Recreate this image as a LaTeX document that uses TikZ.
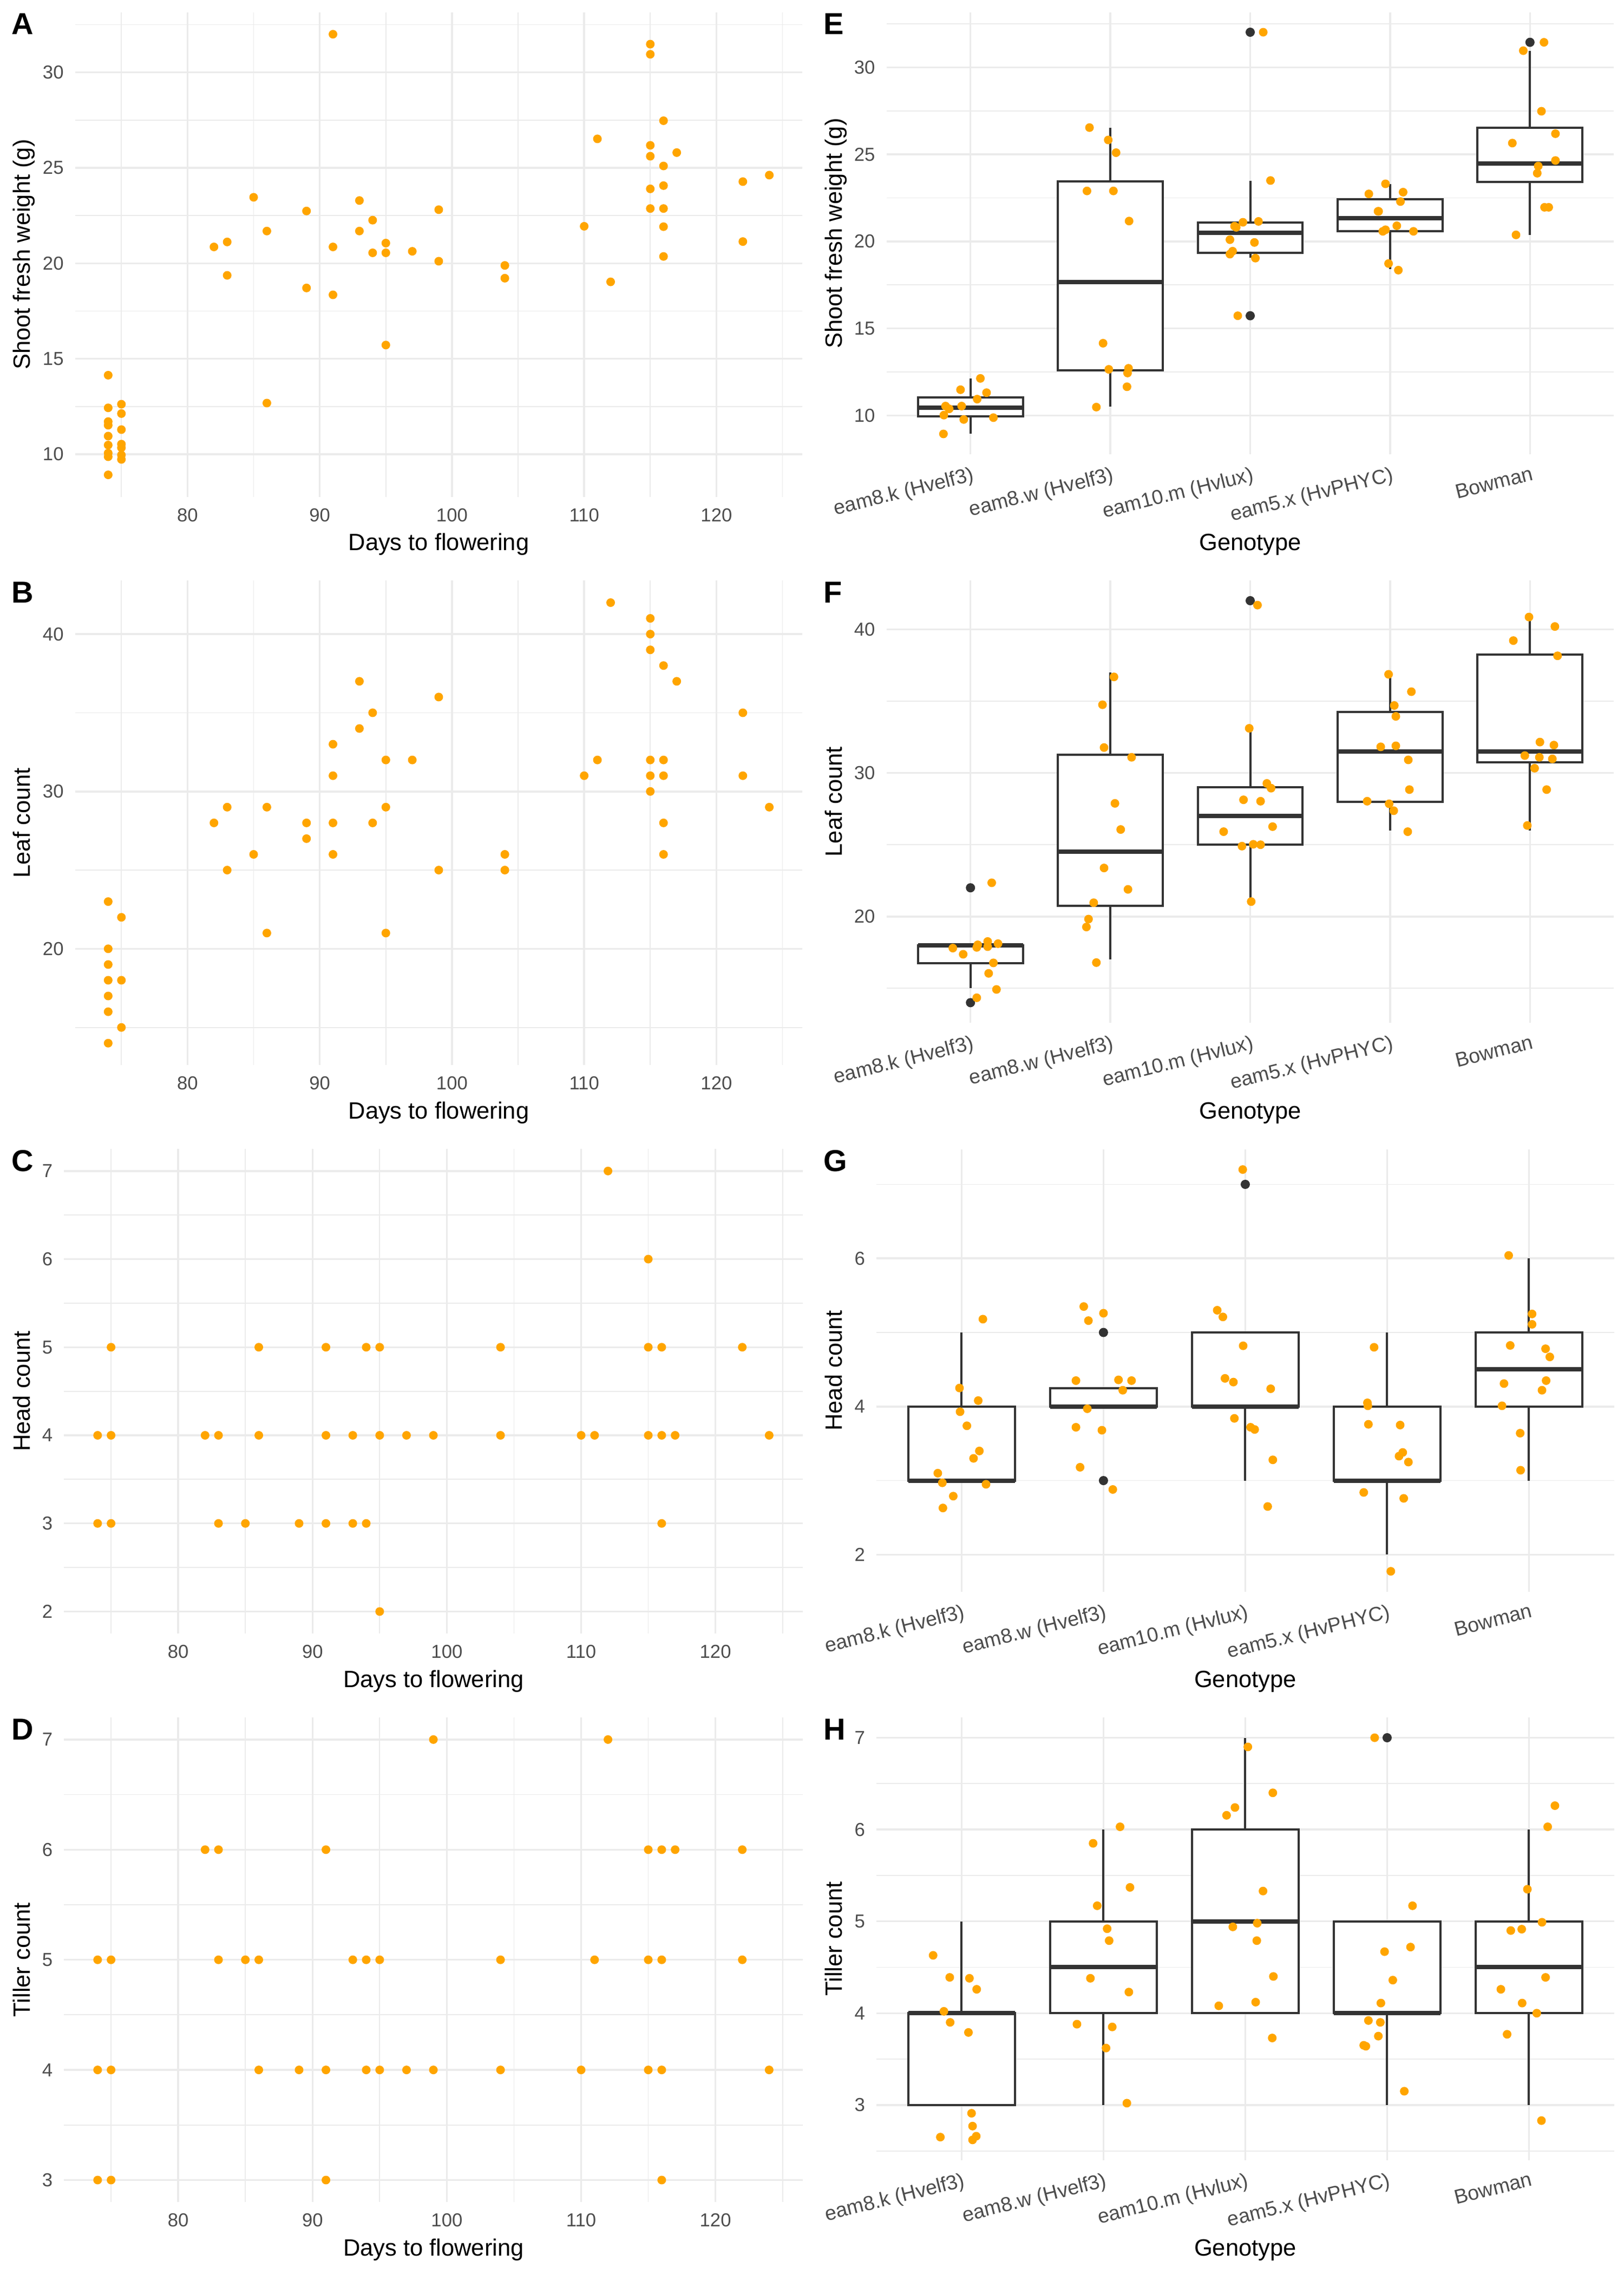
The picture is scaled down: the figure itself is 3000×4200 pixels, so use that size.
\documentclass[tikz,border=0pt]{standalone}
\usepackage{fontspec}
\setmainfont{Liberation Sans}
\definecolor{gridc}{HTML}{EBEBEB}
\definecolor{ptc}{HTML}{FFA500}
\definecolor{dk}{HTML}{333333}
\definecolor{labc}{HTML}{4D4D4D}
\tikzset{
 gmaj/.style={draw=gridc, line width=3.5pt},
 gmin/.style={draw=gridc, line width=1.8pt},
 ticklab/.style={font=\fontsize{34.7}{40}\selectfont, text=labc, inner sep=0pt},
 catlab/.style={font=\fontsize{37.5}{43}\selectfont, text=labc, inner sep=0pt},
 axttl/.style={font=\fontsize{43.5}{50}\selectfont, text=black, inner sep=0pt},
 tagl/.style={font=\fontsize{56}{64}\selectfont\bfseries, text=black, inner sep=0pt},
 bxl/.style={draw=dk, line width=4pt},
}
\newcommand\jpts[1]{\foreach \xa/\ya in {#1} {\fill[ptc] (\xa,\ya) circle[radius=8pt];}}
\newcommand\hrow[2]{\foreach \xa in {#2} {\fill[ptc] (\xa,#1) circle[radius=8pt];}}
\newcommand\outl[2]{\fill[dk] (#1,#2) circle[radius=8.5pt];}
\newcommand\bxp[6]{%
 \draw[bxl] (#1,#2) -- (#1,#3);
 \draw[bxl] (#1,#5) -- (#1,#6);
 \draw[bxl, fill=white] (#1-0.375,#3) rectangle (#1+0.375,#5);
 \draw[draw=dk, line width=8pt] (#1-0.375,#4) -- (#1+0.375,#4);}
\newcommand\daysgrid[4]{% ymin, ymax, minor y list, major y list
 \foreach \t in {75,85,95,105,115,125} \draw[gmin] (\t,#1) -- (\t,#2);
 \foreach \t in {#3} \draw[gmin] (71.5,\t) -- (126.5,\t);
 \foreach \t in {80,90,100,110,120} \draw[gmaj] (\t,#1) -- (\t,#2);
 \foreach \t in {#4} \draw[gmaj] (71.5,\t) -- (126.5,\t);
 \foreach \t in {#4} \node[ticklab,anchor=east,xshift=-21pt] at (71.5,\t) {\t};
 \foreach \t in {80,90,100,110,120} \node[ticklab,anchor=north,yshift=-21pt] at (\t,#1) {\t};}
\newcommand\catgrid[4]{% ymin, ymax, minor y list, major y list
 \foreach \t in {#3} \draw[gmin] (0.4,\t) -- (5.6,\t);
 \foreach \t in {1,2,3,4,5} \draw[gmaj] (\t,#1) -- (\t,#2);
 \foreach \t in {#4} \draw[gmaj] (0.4,\t) -- (5.6,\t);
 \foreach \t in {#4} \node[ticklab,anchor=east,xshift=-21pt] at (0.4,\t) {\t};
 \foreach \k/\s in {1/eam8.k (Hvelf3),2/eam8.w (Hvelf3),3/eam10.m (Hvlux),4/eam5.x (HvPHYC),5/Bowman}
   \node[catlab,xshift=1.3pt,yshift=-21.8pt,rotate=14,anchor=north east] at (\k,#1) {\s};}
\begin{document}
\begin{tikzpicture}[x=1pt,y=1pt]
\fill[white] (0,0) rectangle (3000,4200);
\useasboundingbox (0,0) rectangle (3000,4200);

% ---------------- Panel A
\begin{scope}[shift={(-1607.6pt,3008.4pt)},x=24.425pt,y=35.26pt]
\daysgrid{7.77}{33.15}{12.5,17.5,22.5,27.5,32.5}{10,15,20,25,30}
\jpts{74/14.14,74/12.43,74/11.71,74/11.52,74/10.95,74/10.48,74/10.06,74/9.87,74/8.92,
75/12.62,75/12.13,75/11.29,75/10.53,75/10.34,75/9.96,75/9.73,
82/20.86,83/21.12,83/19.37,85/23.46,86/21.69,86/12.68,89/22.74,89/18.71,
91/32.0,91/20.86,91/18.35,93/23.29,93/21.69,94/22.26,94/20.55,95/21.06,95/20.55,95/15.72,
97/20.63,99/22.81,99/20.11,104/19.89,104/19.22,110/21.94,111/26.52,112/19.03,
115/31.48,115/30.95,115/26.18,115/25.61,115/23.90,115/22.87,
116/27.47,116/25.10,116/24.07,116/22.87,116/21.92,116/20.36,
117/25.80,122/24.28,122/21.14,124/24.62}
\end{scope}

% ---------------- Panel B
\begin{scope}[shift={(-1607.6pt,1866.4pt)},x=24.425pt,y=29.06pt]
\daysgrid{12.6}{43.4}{15,25,35}{20,30,40}
\jpts{74/23,74/20,74/19,74/18,74/17,74/16,74/14,75/22,75/18,75/15,
82/28,83/29,83/25,85/26,86/29,86/21,89/28,89/27,91/33,91/31,91/28,91/26,
93/37,93/34,94/35,94/28,95/32,95/29,95/21,97/32,99/36,99/25,104/26,104/25,
110/31,111/32,112/42,115/41,115/40,115/39,115/32,115/31,115/30,
116/38,116/32,116/31,116/28,116/26,117/37,122/35,122/31,124/29}
\end{scope}

% ---------------- Panel C
\begin{scope}[shift={(-1655.6pt,898.1pt)},x=24.81pt,y=162.72pt]
\daysgrid{1.75}{7.25}{2.5,3.5,4.5,5.5,6.5}{2,3,4,5,6,7}
\hrow{7}{112}
\hrow{6}{115}
\hrow{5}{75,86,91,94,95,104,115,116,122}
\hrow{4}{74,75,82,83,86,91,93,95,97,99,104,110,111,115,116,117,124}
\hrow{3}{74,75,83,85,89,91,93,94,116}
\hrow{2}{95}
\end{scope}

% ---------------- Panel D
\begin{scope}[shift={(-1655.6pt,-436.7pt)},x=24.81pt,y=203.4pt]
\daysgrid{2.8}{7.2}{3.5,4.5,5.5,6.5}{3,4,5,6,7}
\hrow{7}{99,112}
\hrow{6}{82,83,91,115,116,117,122}
\hrow{5}{74,75,83,85,86,93,94,95,104,111,115,116,122}
\hrow{4}{74,75,86,89,91,94,95,97,99,104,110,115,116,124}
\hrow{3}{74,75,91,116}
\end{scope}

% ---------------- Panel E
\begin{scope}[shift={(1534.3pt,3111.15pt)},x=258.4pt,y=32.145pt]
\catgrid{7.77}{33.15}{12.5,17.5,22.5,27.5,32.5}{10,15,20,25,30}
\bxp{1}{8.94}{9.94}{10.44}{11.04}{12.13}
\bxp{2}{10.5}{12.58}{17.67}{23.46}{26.54}
\bxp{3}{19.06}{19.35}{20.5}{21.1}{23.48}
\bxp{4}{18.42}{20.58}{21.33}{22.42}{23.29}
\bxp{5}{20.38}{23.42}{24.48}{26.52}{30.96}
\outl{3}{32.02}\outl{3}{15.73}\outl{5}{31.44}
\jpts{1.071/12.13,0.929/11.48,1.115/11.31,1.048/10.94,0.822/10.54,0.848/10.38,0.937/10.54,0.810/10.02,0.952/9.77,1.164/9.875,0.807/8.94,
1.851/26.54,1.985/25.83,2.041/25.10,1.833/22.90,2.022/22.90,2.134/21.17,1.948/14.15,1.989/12.65,2.130/12.71,2.123/12.44,2.119/11.65,1.900/10.48,
3.093/32.02,3.145/23.5,3.059/21.15,2.948/21.10,2.888/20.875,2.900/20.81,2.855/20.10,3.030/19.94,2.874/19.44,2.855/19.27,3.037/19.04,2.911/15.73,
3.967/23.31,4.093/22.83,3.848/22.73,4.074/22.29,3.914/21.73,3.918/21.73,4.048/20.90,3.967/20.67,3.948/20.58,4.167/20.58,3.989/18.73,4.059/18.35,
5.100/31.44,4.952/30.96,5.082/27.48,5.182/26.19,4.874/25.65,5.182/24.65,5.059/24.33,5.052/23.92,5.104/21.96,5.134/21.96,4.900/20.375}
\end{scope}

% ---------------- Panel F
\begin{scope}[shift={(1534.3pt,1976.9pt)},x=258.4pt,y=26.515pt]
\catgrid{12.6}{43.4}{15,25,35}{20,30,40}
\bxp{1}{15}{16.75}{18}{18}{18}
\bxp{2}{17}{20.75}{24.5}{31.25}{37}
\bxp{3}{21}{25}{27}{29}{33}
\bxp{4}{26}{28}{31.5}{34.25}{37}
\bxp{5}{26}{30.75}{31.5}{38.25}{41}
\outl{1}{22}\outl{1}{14}\outl{3}{42}
\jpts{1.152/22.35,0.874/17.80,1.045/17.85,1.052/18.03,1.123/18.26,1.123/17.90,1.197/18.11,0.948/17.37,1.164/16.77,1.130/16.04,1.186/14.92,1.045/14.34,
2.026/36.69,1.944/34.75,1.955/31.77,2.152/31.09,2.033/27.88,2.074/26.06,1.955/23.38,2.126/21.89,1.881/20.96,1.844/19.82,1.829/19.27,1.900/16.79,
3.052/41.69,2.993/33.11,3.119/29.27,3.149/28.94,2.952/28.13,3.074/28.03,2.810/25.91,3.160/26.26,2.941/24.90,3.022/25.03,3.074/25.0,3.007/21.04,
3.989/36.87,4.152/35.66,4.030/34.70,4.041/33.94,3.933/31.82,4.041/31.89,4.130/30.91,4.138/28.84,3.836/28.03,3.993/27.85,4.026/27.37,4.126/25.91,
4.993/40.86,5.178/40.20,4.881/39.22,5.197/38.16,5.071/32.15,5.171/31.94,4.963/31.21,5.067/31.09,5.160/30.98,5.033/30.33,5.119/28.84,4.981/26.34}
\end{scope}

% ---------------- Panel G
\begin{scope}[shift={(1514.4pt,1055.05pt)},x=262pt,y=136.78pt]
\catgrid{1.5}{7.47}{3,5,7}{2,4,6}
\bxp{1}{3}{3}{3}{4}{5}
\bxp{2}{4}{4}{4}{4.25}{4.25}
\bxp{3}{3}{4}{4}{5}{5}
\bxp{4}{2}{3}{3}{4}{5}
\bxp{5}{3}{4}{4.5}{5}{6}
\outl{2}{5}\outl{2}{3}\outl{3}{7}
\jpts{1.150/5.18,0.985/4.25,1.117/4.08,0.989/3.93,1.037/3.74,1.125/3.40,1.084/3.30,0.832/3.10,0.864/2.97,1.172/2.95,0.941/2.79,0.868/2.63,
1.861/5.35,2.0/5.26,1.894/5.16,1.806/4.35,2.106/4.36,2.198/4.35,2.136/4.22,1.886/3.97,1.806/3.72,1.989/3.68,1.835/3.18,2.066/2.88,
2.982/7.20,2.802/5.30,2.842/5.21,2.985/4.82,2.857/4.38,2.916/4.33,3.179/4.24,2.923/3.84,3.037/3.72,3.066/3.69,3.194/3.28,3.158/2.65,
3.908/4.80,3.861/4.05,3.864/4.01,3.868/3.76,4.092/3.75,4.110/3.38,4.084/3.33,4.150/3.25,3.835/2.84,4.117/2.76,4.026/1.775,
4.857/6.04,5.022/5.25,5.022/5.11,4.868/4.825,5.117/4.78,5.147/4.67,5.121/4.35,4.824/4.31,5.092/4.22,4.810/4.01,4.938/3.64,4.941/3.14}
\end{scope}

% ---------------- Panel H
\begin{scope}[shift={(1514.4pt,-196.6pt)},x=262pt,y=169.58pt]
\catgrid{2.4}{7.22}{2.5,3.5,4.5,5.5,6.5}{3,4,5,6,7}
\bxp{1}{3}{3}{4}{4}{5}
\bxp{2}{3}{4}{4.5}{5}{6}
\bxp{3}{4}{4}{5}{6}{7}
\bxp{4}{3}{4}{4}{5}{5}
\bxp{5}{3}{4}{4.5}{5}{6}
\outl{4}{7}
\jpts{0.799/4.63,0.916/4.39,1.055/4.38,1.106/4.26,0.875/4.02,0.919/3.90,1.048/3.79,1.070/2.91,1.077/2.77,0.850/2.65,1.103/2.66,1.077/2.62,
2.117/6.03,1.927/5.85,2.187/5.37,1.956/5.17,2.026/4.92,2.040/4.79,1.908/4.38,2.179/4.23,1.813/3.88,2.062/3.85,2.018/3.62,2.165/3.02,
3.018/6.90,3.194/6.40,2.927/6.24,2.868/6.155,3.125/5.33,2.912/4.94,3.084/4.98,3.081/4.79,3.198/4.40,2.813/4.08,3.073/4.12,3.190/3.73,
3.912/7.0,4.179/5.17,4.165/4.72,3.982/4.67,4.040/4.36,3.956/4.11,3.868/3.92,3.952/3.90,3.938/3.75,3.835/3.65,3.850/3.64,4.121/3.15,
5.183/6.26,5.132/6.03,4.989/5.35,4.872/4.90,4.949/4.915,5.092/4.99,5.117/4.39,4.802/4.26,4.952/4.11,5.055/4.0,4.846/3.77,5.088/2.83}
\end{scope}

% ---------------- Axis titles
\node[axttl,anchor=base] (xtA) at (810.45,3183.5) {Days to flowering};
\node[axttl,anchor=base] (xtB) at (810.45,2133.5) {Days to flowering};
\node[axttl,anchor=base] (xtC) at (800.85,1083.5) {Days to flowering};
\node[axttl,anchor=base] (xtD) at (800.85,33.5) {Days to flowering};
\node[axttl,anchor=base] (xtE) at (2309.5,3183.5) {Genotype};
\node[axttl,anchor=base] (xtF) at (2309.5,2133.5) {Genotype};
\node[axttl,anchor=base] (xtG) at (2300.4,1083.5) {Genotype};
\node[axttl,anchor=base] (xtH) at (2300.4,33.5) {Genotype};
\node[axttl,rotate=90,anchor=base] (ytA) at (55.7,3729.85) {Shoot fresh weight (g)};
\node[axttl,rotate=90,anchor=base] (ytB) at (55.7,2680.1) {Leaf count};
\node[axttl,rotate=90,anchor=base] (ytC) at (55.7,1630.35) {Head count};
\node[axttl,rotate=90,anchor=base] (ytD) at (55.7,580.3) {Tiller count};
\node[axttl,rotate=90,anchor=base] (ytE) at (1555.7,3768.85) {Shoot fresh weight (g)};
\node[axttl,rotate=90,anchor=base] (ytF) at (1555.7,2719.35) {Leaf count};
\node[axttl,rotate=90,anchor=base] (ytG) at (1555.7,1668.5) {Head count};
\node[axttl,rotate=90,anchor=base] (ytH) at (1555.7,619.1) {Tiller count};

% ---------------- Panel tags
\node[tagl,anchor=base west] (tA) at (21,4136.4) {A};
\node[tagl,anchor=base west] (tB) at (21,3086.4) {B};
\node[tagl,anchor=base west] (tC) at (21,2036.4) {C};
\node[tagl,anchor=base west] (tD) at (21,986.4) {D};
\node[tagl,anchor=base west] (tE) at (1521,4136.4) {E};
\node[tagl,anchor=base west] (tF) at (1521,3086.4) {F};
\node[tagl,anchor=base west] (tG) at (1521,2036.4) {G};
\node[tagl,anchor=base west] (tH) at (1521,986.4) {H};
\end{tikzpicture}
\end{document}
